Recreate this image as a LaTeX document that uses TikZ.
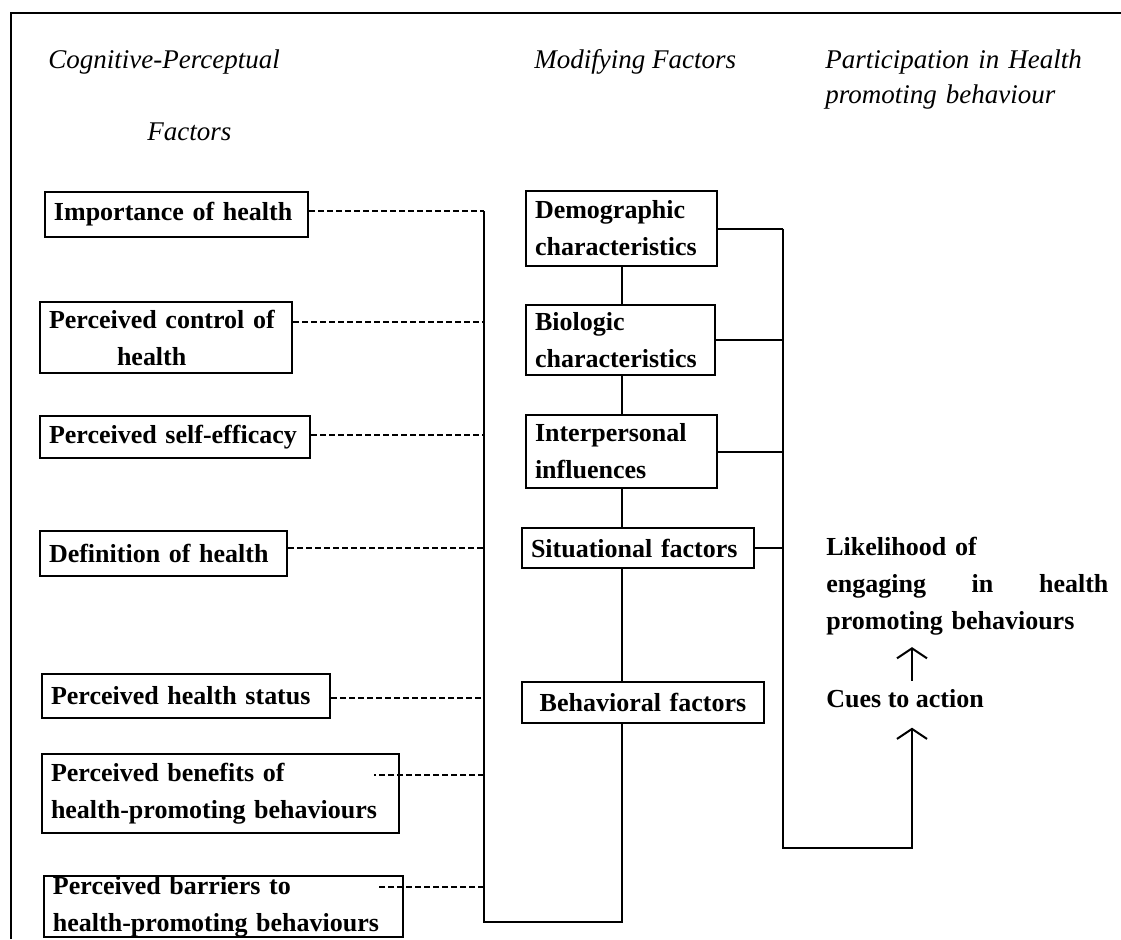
\documentclass[tikz,border=0pt]{standalone}
\usepackage{fontspec}
\setmainfont{Liberation Serif}
\usetikzlibrary{arrows.meta}

\begin{document}
\begin{tikzpicture}[x=0.5pt, y=-0.5pt,
    factorbox/.style={draw, line width=1pt, anchor=north west, align=left,
      inner xsep=4.5pt, inner ysep=2pt, font=\bfseries\fontsize{13}{18.5}\selectfont},
    heading/.style={anchor=base west, inner sep=0pt, align=left,
      font=\itshape\fontsize{13.5}{17.5}\selectfont},
    outcome/.style={anchor=base west, inner sep=0pt, align=left,
      font=\bfseries\fontsize{13}{18.5}\selectfont},
    dashlink/.style={line width=1pt, dash pattern=on 3pt off 1.5pt},
    solidlink/.style={line width=1pt},
    cuearrow/.style={line width=1pt, -{Straight Barb[length=5pt,width=15pt]}}]

    \useasboundingbox (0,0) rectangle (1121,939);

    % Frame (only top and left edges show)
    \draw[solidlink] (11,939) -- (11,13) -- (1121,13);

    % Column headings
    \node[heading] (hcog) at (48,68) {Cognitive-Perceptual};
    \node[heading] (hfac) at (147,140) {Factors};
    \node[heading] (hmod) at (534,68) {Modifying Factors};
    \node[heading, text width=140pt] (hpart) at (825,68) {Participation in Health\\promoting behaviour};

    % Cognitive-perceptual factors
    \node[factorbox, text width=122.5pt, minimum height=22.5pt] (imp) at (44,191) {Importance of health};
    \node[factorbox, text width=117pt, minimum height=35.5pt] (ctrl) at (39,301) {Perceived control of\\\hspace*{34pt}health};
    \node[factorbox, text width=126pt, minimum height=21pt] (eff) at (39,415) {Perceived self-efficacy};
    \node[factorbox, text width=114.5pt, minimum height=22.5pt] (defn) at (39,530) {Definition of health};
    \node[factorbox, text width=135pt, minimum height=22pt] (stat) at (41,673) {Perceived health status};
    \node[factorbox, text width=169.5pt, minimum height=39.5pt] (ben) at (41,753) {Perceived benefits of\\health-promoting behaviours};
    \node[factorbox, text width=170.5pt, minimum height=30.5pt, inner ysep=0pt] (bar) at (43,875) {Perceived barriers to\\health-promoting behaviours};

    % Modifying factors
    \node[factorbox, text width=86.5pt, minimum height=37.5pt] (demo) at (525,190) {Demographic\\characteristics};
    \node[factorbox, text width=85.5pt, minimum height=35pt] (bio) at (525,304) {Biologic\\characteristics};
    \node[factorbox, text width=86.5pt, minimum height=36.5pt] (inter) at (525,414) {Interpersonal\\influences};
    \node[factorbox, text width=107pt, minimum height=20pt] (sit) at (521,527) {Situational factors};
    \node[factorbox, text width=112pt, minimum height=20.5pt, align=center] (behav) at (521,681) {Behavioral factors};

    % Participation in health promoting behaviour
    \node[outcome, text width=141pt] (likely) at (826,555) {Likelihood of\\engaging\hfill in\hfill health\\promoting behaviours};
    \node[outcome] (cues) at (826,707) {Cues to action};

    % Bus lines
    \coordinate (lbot) at (484,922);
    \coordinate (spine) at (622,0);
    \coordinate (rbus) at (783,0);
    \coordinate (cuefoot) at (912,848);

    % Dotted links from the left column to the bus
    \foreach \n/\y in {imp/211, ctrl/322, eff/435, defn/548, stat/698}{
        \coordinate (\n-tap) at (484,\y);
        \draw[dashlink] (\n.east |- \n-tap) -- (\n-tap);
    }
    \coordinate (ben-tap) at (484,775);
    \coordinate (bar-tap) at (484,887);
    \draw[dashlink] (ben-tap) -- (ben-tap -| ben.east) -- ++(-13pt,0);
    \draw[dashlink] (bar-tap) -- (bar-tap -| bar.east) -- ++(-13pt,0);

    % Left bus into behavioral factors
    \draw[solidlink] (imp-tap) -- (lbot) -| (behav.south -| spine);

    % Chain of modifying factors
    \draw[solidlink] (demo.south -| spine) -- (bio.north -| spine);
    \draw[solidlink] (bio.south -| spine) -- (inter.north -| spine);
    \draw[solidlink] (inter.south -| spine) -- (sit.north -| spine);
    \draw[solidlink] (sit.south -| spine) -- (behav.north -| spine);

    % Right bus to cues to action
    \foreach \n in {demo, bio, inter, sit}
        \draw[solidlink] (\n.east) -- (\n.east -| rbus);
    \draw[cuearrow] (demo.east -| rbus) |- (cuefoot) -- ([yshift=-10pt]cuefoot |- cues.south);
    \draw[cuearrow] ([yshift=4pt]cuefoot |- cues.north) -- ([yshift=-6pt]cuefoot |- likely.south);
\end{tikzpicture}
\end{document}
